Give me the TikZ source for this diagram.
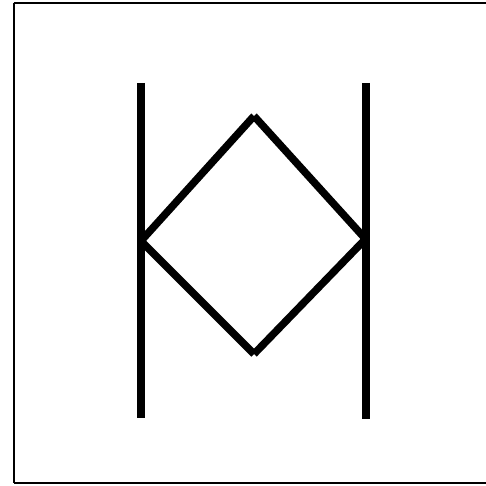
\documentclass[tikz,border=0pt]{standalone}
\begin{document}
\begin{tikzpicture}[x=1pt,y=-1pt,
  bar/.style={line width=8pt,line cap=butt},
  edge/.style={line width=7.5pt,line cap=butt},
  frame/.style={line width=2pt}]
\useasboundingbox (0,0) rectangle (486,486);
\draw[frame] (13.5,3.5) -- (490,3.5);
\draw[frame] (13.5,3.5) -- (13.5,483);
\draw[frame] (13.5,483) -- (490,483);
\coordinate (lt) at (141,83);
\coordinate (lb) at (141,418);
\coordinate (rt) at (365.5,83);
\coordinate (rb) at (365.5,419);
\coordinate (L) at (141,241);
\coordinate (T) at (254,116);
\coordinate (R) at (365.5,239);
\coordinate (B) at (254,354);
\draw[bar] (lt) -- (lb);
\draw[bar] (rt) -- (rb);
\draw[edge] (L) -- (T);
\draw[edge] (T) -- (R);
\draw[edge] (R) -- (B);
\draw[edge] (B) -- (L);
\end{tikzpicture}
\end{document}
